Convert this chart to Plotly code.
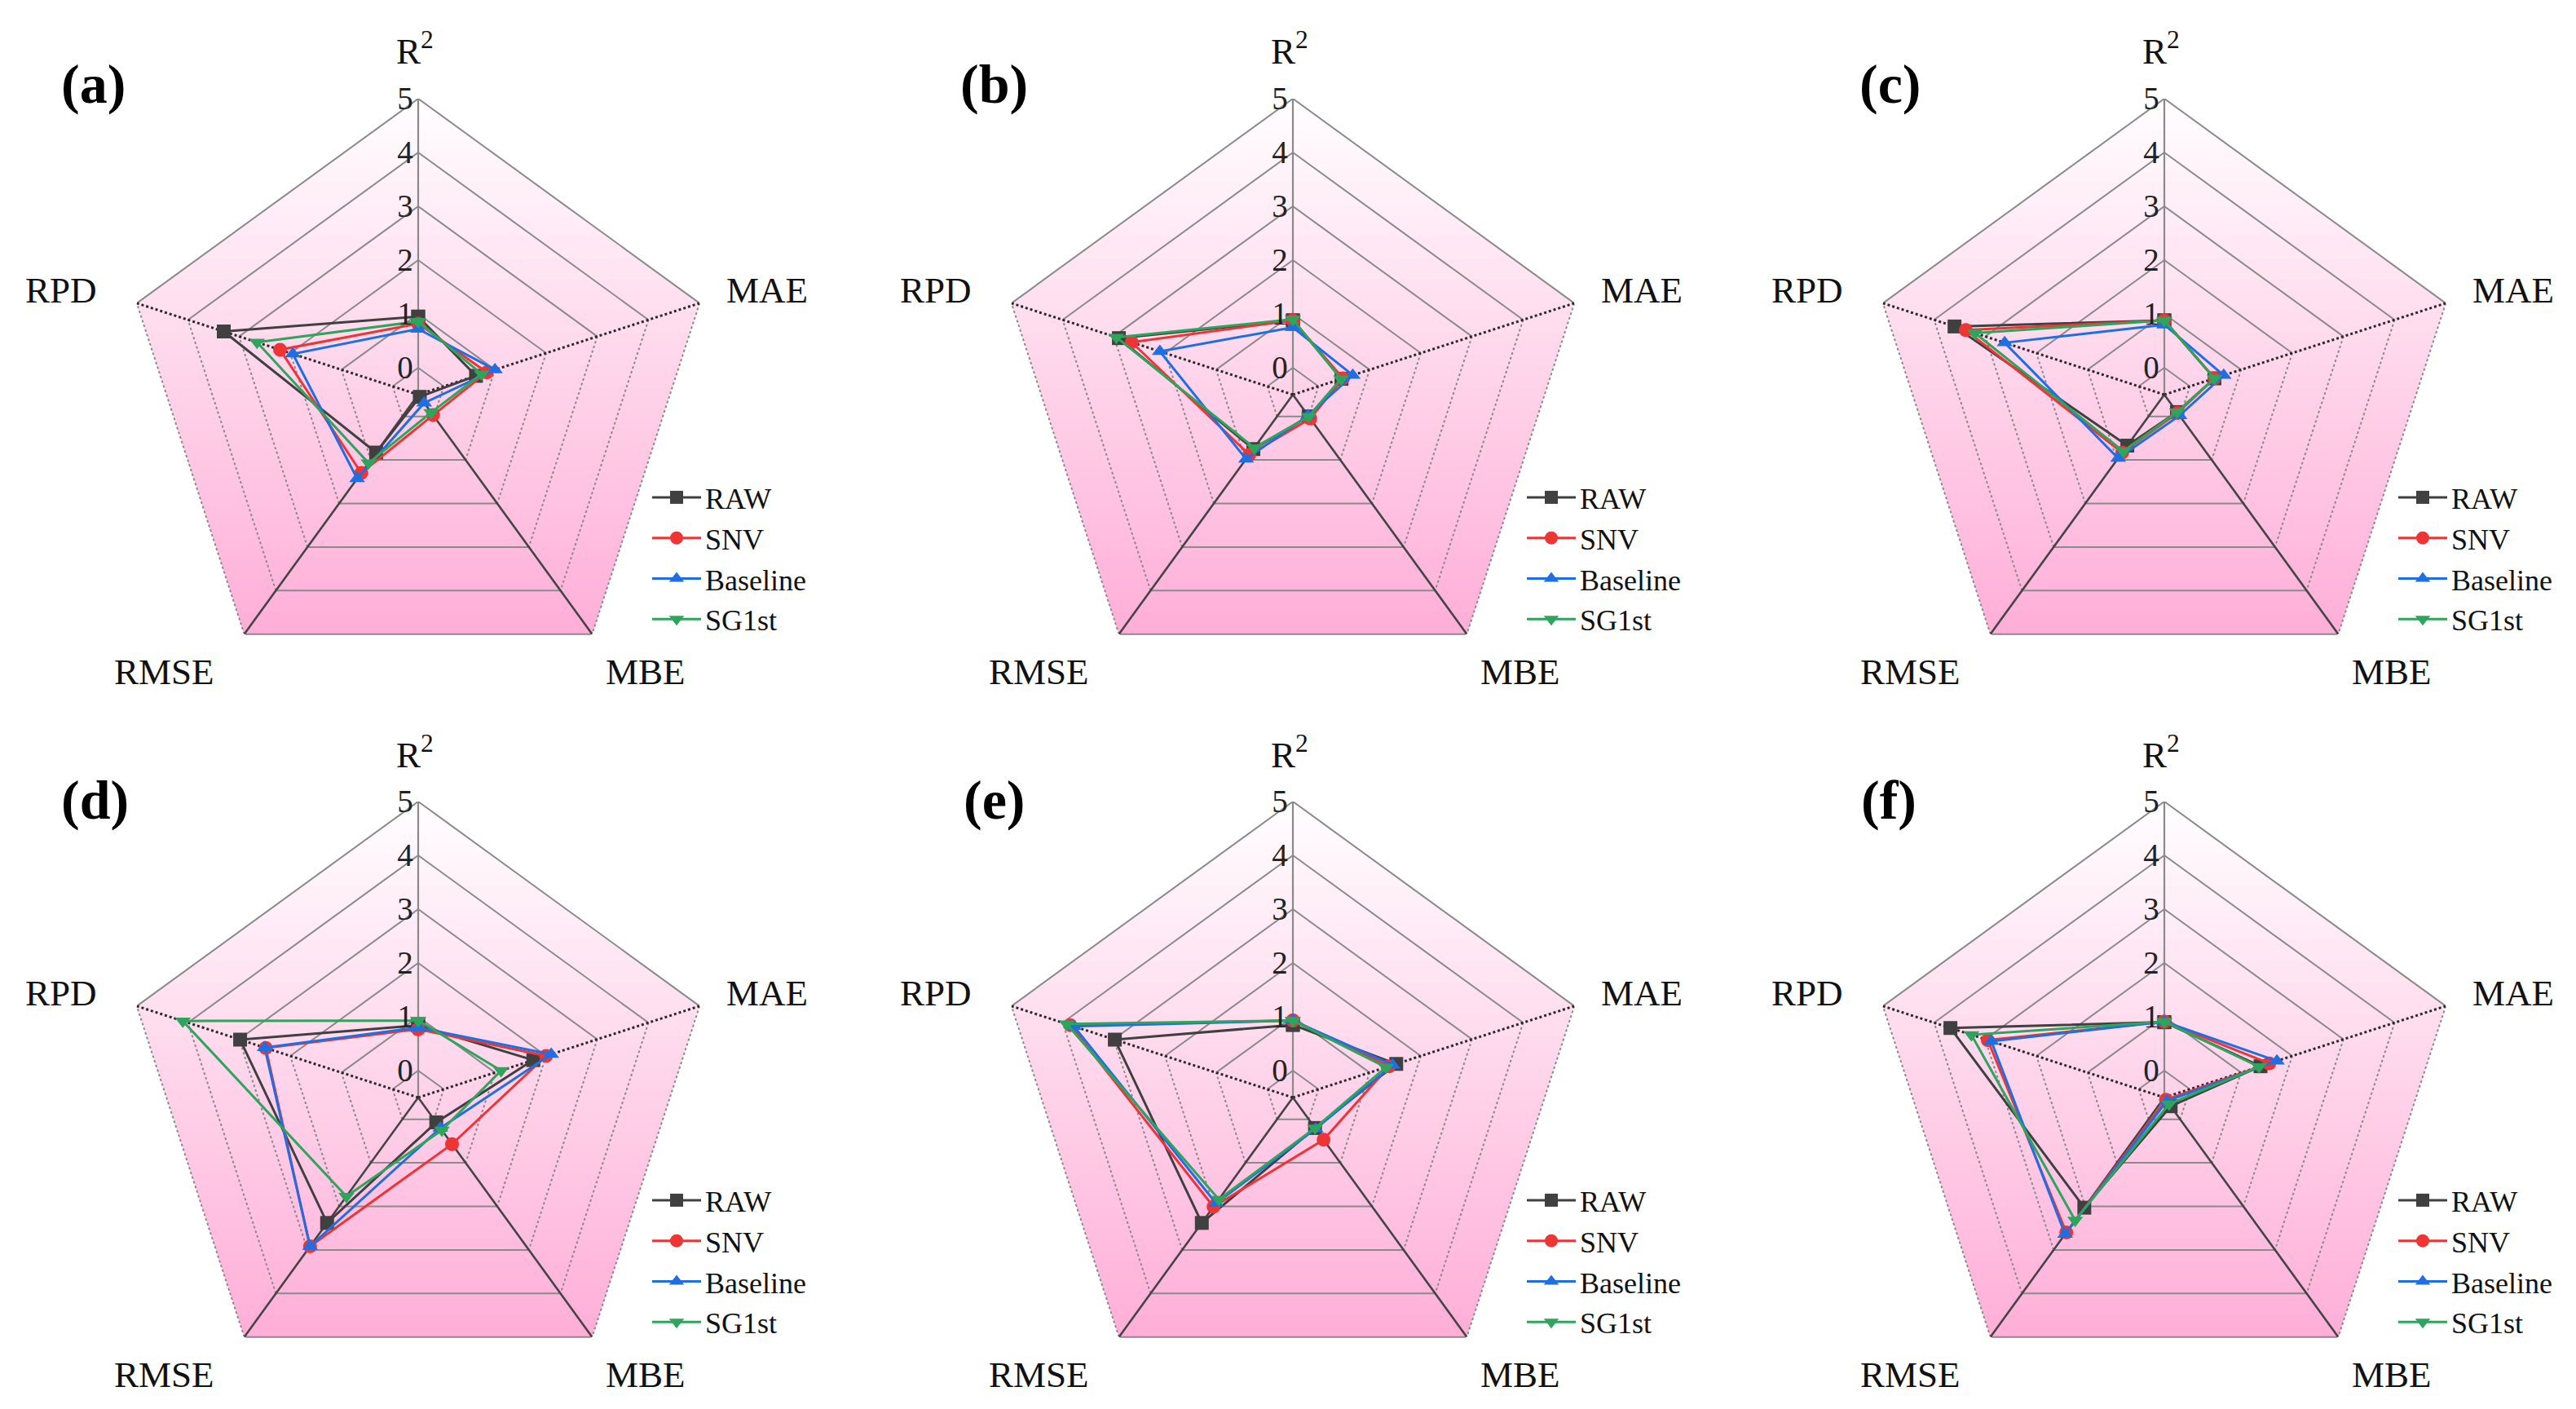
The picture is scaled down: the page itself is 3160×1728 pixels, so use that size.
import numpy as np
import plotly.graph_objects as go

# ---------------- data ----------------
metrics = ["R<sup>2</sup>", "MAE", "MBE", "RMSE", "RPD"]
series_names = ["RAW", "SNV", "Baseline", "SG1st"]
panel_labels = ["(a)", "(b)", "(c)", "(d)", "(e)", "(f)"]
radial_ticks = [0, 1, 2, 3, 4, 5]

# values in metric order: R2, MAE, MBE, RMSE, RPD
a_raw = [0.95, 0.63, -0.45, 0.83, 3.30]
a_snv = [0.82, 0.84, -0.03, 1.30, 2.20]
a_baseline = [0.72, 1.00, -0.31, 1.43, 1.95]
a_sg1st = [0.86, 0.74, -0.09, 1.07, 2.65]

b_raw = [0.88, 0.45, 0.00, 0.75, 2.90]
b_snv = [0.88, 0.48, 0.05, 0.88, 2.65]
b_baseline = [0.75, 0.67, -0.02, 0.98, 2.10]
b_sg1st = [0.90, 0.44, 0.00, 0.72, 2.95]

c_raw = [0.88, 0.48, -0.10, 0.67, 3.60]
c_snv = [0.88, 0.48, -0.08, 0.83, 3.38]
c_baseline = [0.80, 0.66, -0.02, 0.96, 2.62]
c_sg1st = [0.88, 0.48, -0.10, 0.80, 3.20]

d_raw = [0.84, 1.75, 0.07, 2.38, 2.98]
d_snv = [0.77, 2.00, 0.57, 2.92, 2.48]
d_baseline = [0.80, 2.10, 0.20, 2.92, 2.50]
d_sg1st = [0.93, 1.12, 0.25, 1.77, 4.10]

e_raw = [0.85, 1.52, 0.20, 2.38, 2.98]
e_snv = [0.93, 1.38, 0.47, 2.01, 3.85]
e_baseline = [0.93, 1.45, 0.22, 1.93, 3.78]
e_sg1st = [0.93, 1.32, 0.20, 1.84, 3.92]

f_raw = [0.90, 1.38, -0.30, 2.03, 3.68]
f_snv = [0.91, 1.55, -0.45, 2.60, 2.95]
f_baseline = [0.91, 1.70, -0.42, 2.64, 2.88]
f_sg1st = [0.91, 1.35, -0.35, 2.32, 3.27]

panels = [
    [a_raw, a_snv, a_baseline, a_sg1st],
    [b_raw, b_snv, b_baseline, b_sg1st],
    [c_raw, c_snv, c_baseline, c_sg1st],
    [d_raw, d_snv, d_baseline, d_sg1st],
    [e_raw, e_snv, e_baseline, e_sg1st],
    [f_raw, f_snv, f_baseline, f_sg1st],
]

# ---------------- styling ----------------
W, H = 3160, 1728
FONT = "Liberation Serif"
colors = ["#404040", "#EE3535", "#1F6FE3", "#2EA45C"]
symbols = ["square", "circle", "triangle-up", "triangle-down"]
R_MIN, R_MAX = -0.5, 5
angles = [90 - 72 * i for i in range(len(metrics))]

centers = [(505, 476), (1578, 476), (2647, 476),
           (505, 1338), (1578, 1338), (2647, 1338)]
RADIUS = 363
label_pos = [(106, 95), (1211, 95), (2310, 95),
             (108, 973), (1211, 973), (2309, 973)]
# text-centre offsets of the axis names from the pentagon centre (px)
metric_offsets = [(-4, -424), (428, -128), (279, 340), (-312, 340), (-438, -128)]

top_col = np.array([255, 254, 255])
bot_col = np.array([255, 174, 216])


def clip(poly, y, keep_above):
    out = []
    n = len(poly)
    for i in range(n):
        p, q = poly[i], poly[(i + 1) % n]
        pin = p[1] >= y if keep_above else p[1] <= y
        qin = q[1] >= y if keep_above else q[1] <= y
        if pin:
            out.append(p)
        if pin != qin:
            t = (y - p[1]) / (q[1] - p[1])
            out.append((p[0] + t * (q[0] - p[0]), y))
    return out


span = R_MAX - R_MIN
pent = [(span * np.cos(np.radians(a)), span * np.sin(np.radians(a))) for a in angles]
y_top = span
y_bot = -span * np.sin(np.radians(54))
N_STRIPS = 50
strips = []
h = (y_top - y_bot) / N_STRIPS
for i in range(N_STRIPS):
    hi = y_top - i * h + 0.02
    lo = y_top - (i + 1) * h - 0.02
    poly = clip(clip(pent, lo, True), hi, False)
    if len(poly) < 3:
        continue
    poly = poly + [poly[0]]
    rr = [np.hypot(x, y) + R_MIN for x, y in poly]
    tt = [np.degrees(np.arctan2(y, x)) for x, y in poly]
    t = (i + 0.5) / N_STRIPS
    c = top_col + (bot_col - top_col) * t
    strips.append((rr, tt, "rgb(%d,%d,%d)" % tuple(np.round(c).astype(int))))

fig = go.Figure()

for p in range(6):
    sp = "polar" if p == 0 else "polar%d" % (p + 1)
    lg = "legend" if p == 0 else "legend%d" % (p + 1)
    # background gradient
    for rr, tt, col in strips:
        fig.add_trace(go.Scatterpolar(r=rr, theta=tt, mode="lines", fill="toself",
                                      fillcolor=col, line=dict(width=0, color=col),
                                      hoverinfo="skip", showlegend=False, subplot=sp))
    # ring grid lines: solid / dotted segments
    solid_r, solid_t, dot_r, dot_t = [], [], [], []
    for k in radial_ticks:
        for i in range(5):
            a0, a1 = angles[i], angles[(i + 1) % 5]
            if i in (1, 3):
                dot_r += [k, k, None]
                dot_t += [a0, a1, None]
            else:
                solid_r += [k, k, None]
                solid_t += [a0, a1, None]
    fig.add_trace(go.Scatterpolar(r=solid_r, theta=solid_t, mode="lines",
                                  line=dict(color="#8a8a8a", width=2), connectgaps=False,
                                  hoverinfo="skip", showlegend=False, subplot=sp))
    fig.add_trace(go.Scatterpolar(r=dot_r, theta=dot_t, mode="lines",
                                  line=dict(color="#8a8a8a", width=2, dash="dot"), connectgaps=False,
                                  hoverinfo="skip", showlegend=False, subplot=sp))
    # spokes
    spoke_style = [("#8a8a8a", "solid", 2.2), ("#2a2a2a", "dot", 3), ("#444444", "solid", 2.6),
                   ("#444444", "solid", 2.6), ("#2a2a2a", "dot", 3)]
    for i, (col, dash, wd) in enumerate(spoke_style):
        fig.add_trace(go.Scatterpolar(r=[R_MIN, R_MAX], theta=[angles[i], angles[i]], mode="lines",
                                      line=dict(color=col, width=wd, dash=dash),
                                      hoverinfo="skip", showlegend=False, subplot=sp))
    # data series
    for s, vals in enumerate(panels[p]):
        fig.add_trace(go.Scatterpolar(
            r=list(vals) + [vals[0]], theta=angles + [angles[0]], mode="lines+markers",
            name=series_names[s], line=dict(color=colors[s], width=3),
            marker=dict(symbol=symbols[s], size=17, color=colors[s]),
            subplot=sp, legend=lg, showlegend=True))

layout = dict(width=W, height=H, margin=dict(l=0, r=0, t=0, b=0),
              paper_bgcolor="white", plot_bgcolor="white",
              font=dict(family=FONT, color="#111111"))
annotations = []
for p in range(6):
    cx, cy = centers[p]
    sp = "polar" if p == 0 else "polar%d" % (p + 1)
    lg = "legend" if p == 0 else "legend%d" % (p + 1)
    layout[sp] = dict(
        domain=dict(x=[(cx - RADIUS) / W, (cx + RADIUS) / W],
                    y=[1 - (cy + RADIUS) / H, 1 - (cy - RADIUS) / H]),
        bgcolor="rgba(0,0,0,0)",
        gridshape="linear",
        radialaxis=dict(range=[R_MIN, R_MAX], tickmode="array", tickvals=radial_ticks,
                        angle=90, side="counterclockwise", tickangle=90,
                        showgrid=False, showline=False, ticks="",
                        tickfont=dict(family=FONT, size=39, color="#222222")),
        angularaxis=dict(type="linear", thetaunit="degrees", rotation=0,
                         direction="counterclockwise", showticklabels=False,
                         showgrid=False, showline=False, ticks=""),
    )
    layout[lg] = dict(x=(cx + 282) / W, y=1 - (cy + 96) / H, xanchor="left", yanchor="top",
                      bgcolor="rgba(0,0,0,0)", font=dict(family=FONT, size=36, color="#111111"),
                      itemwidth=60, tracegroupgap=0)
    lx, ly = label_pos[p]
    annotations.append(dict(text="<b>%s</b>" % panel_labels[p], x=lx / W, y=1 - ly / H,
                            xref="paper", yref="paper", xanchor="center", yanchor="middle",
                            showarrow=False, font=dict(family=FONT, size=68, color="#000000")))
    for m, (dx, dy) in zip(metrics, metric_offsets):
        annotations.append(dict(text=m, x=(cx + dx) / W, y=1 - (cy + dy) / H,
                                xref="paper", yref="paper", xanchor="center", yanchor="middle",
                                showarrow=False, font=dict(family=FONT, size=45, color="#111111")))
layout["annotations"] = annotations
fig.update_layout(**layout)
fig.write_html("out.html")
